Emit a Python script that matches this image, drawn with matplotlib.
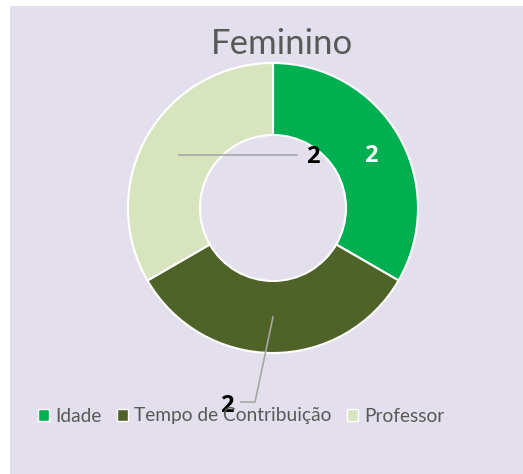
import numpy as np
import matplotlib
matplotlib.use("Agg")
from matplotlib import pyplot as plt
from matplotlib.patches import Rectangle, Patch

title = "Feminino"
categories = ["Idade", "Tempo de Contribuição", "Professor"]
values = [2, 2, 2]
colors = ["#00B050", "#4F6228", "#D7E4BD"]

W, H = 523, 474
plt.rcParams['font.family'] = ['Lato', 'DejaVu Sans']
lbl_font = dict(family=['Open Sans', 'DejaVu Sans'], fontsize=17, fontweight="bold",
                ha="center", va="center")

fig = plt.figure(figsize=(W / 100, H / 100), dpi=100, facecolor="white")
ax = fig.add_axes([0, 0, 1, 1])
ax.add_patch(Rectangle((10, 0), W - 10, H - 6, facecolor="#E4DFEC", edgecolor="none", zorder=0))

cx, cy, R, ring = 273, 266, 145, 72
wedges, _ = ax.pie(values, colors=colors, startangle=90, counterclock=False,
                   center=(cx, cy), radius=R,
                   wedgeprops=dict(width=ring, edgecolor="white", linewidth=1.5))
ax.set_xlim(0, W)
ax.set_ylim(0, H)
ax.set_aspect("equal")
ax.axis("off")

# data labels at middle of ring
mids = [np.deg2rad((w.theta1 + w.theta2) / 2) for w in wedges]
rm = R - ring / 2
pts = [(cx + rm * np.cos(a), cy + rm * np.sin(a)) for a in mids]

# Idade: inside slice, white
ax.text(pts[0][0] + 3, pts[0][1] - 2, str(values[0]), color="white", **lbl_font)
# Tempo de Contribuição: leader line down to label
px, py = pts[1]
ax.plot([px, px - 18, px - 32], [py, py - 85, py - 85], color="#A6A6A6", lw=1.2)
ax.text(px - 46, py - 89, str(values[1]), color="black", **lbl_font)
# Professor: leader line to the right
px, py = pts[2]
ax.plot([px, px + 118], [py - 1, py - 1], color="#A6A6A6", lw=1.2)
ax.text(px + 134, py - 3, str(values[2]), color="black", **lbl_font)

ax.text(282, H - 44, title, fontsize=25, color="#595959", ha="center", va="center")

handles = [Patch(facecolor=c, edgecolor="white", linewidth=1) for c in colors]
leg = ax.legend(handles, categories, loc="center", bbox_to_anchor=(241 / W, 1 - 416 / H),
                ncol=3, frameon=False, fontsize=13.8, handlelength=0.6, handleheight=0.6,
                handletextpad=0.3, columnspacing=0.8, labelcolor="#595959")

fig.savefig("out.png", dpi=100, facecolor="white")
plt.close(fig)
